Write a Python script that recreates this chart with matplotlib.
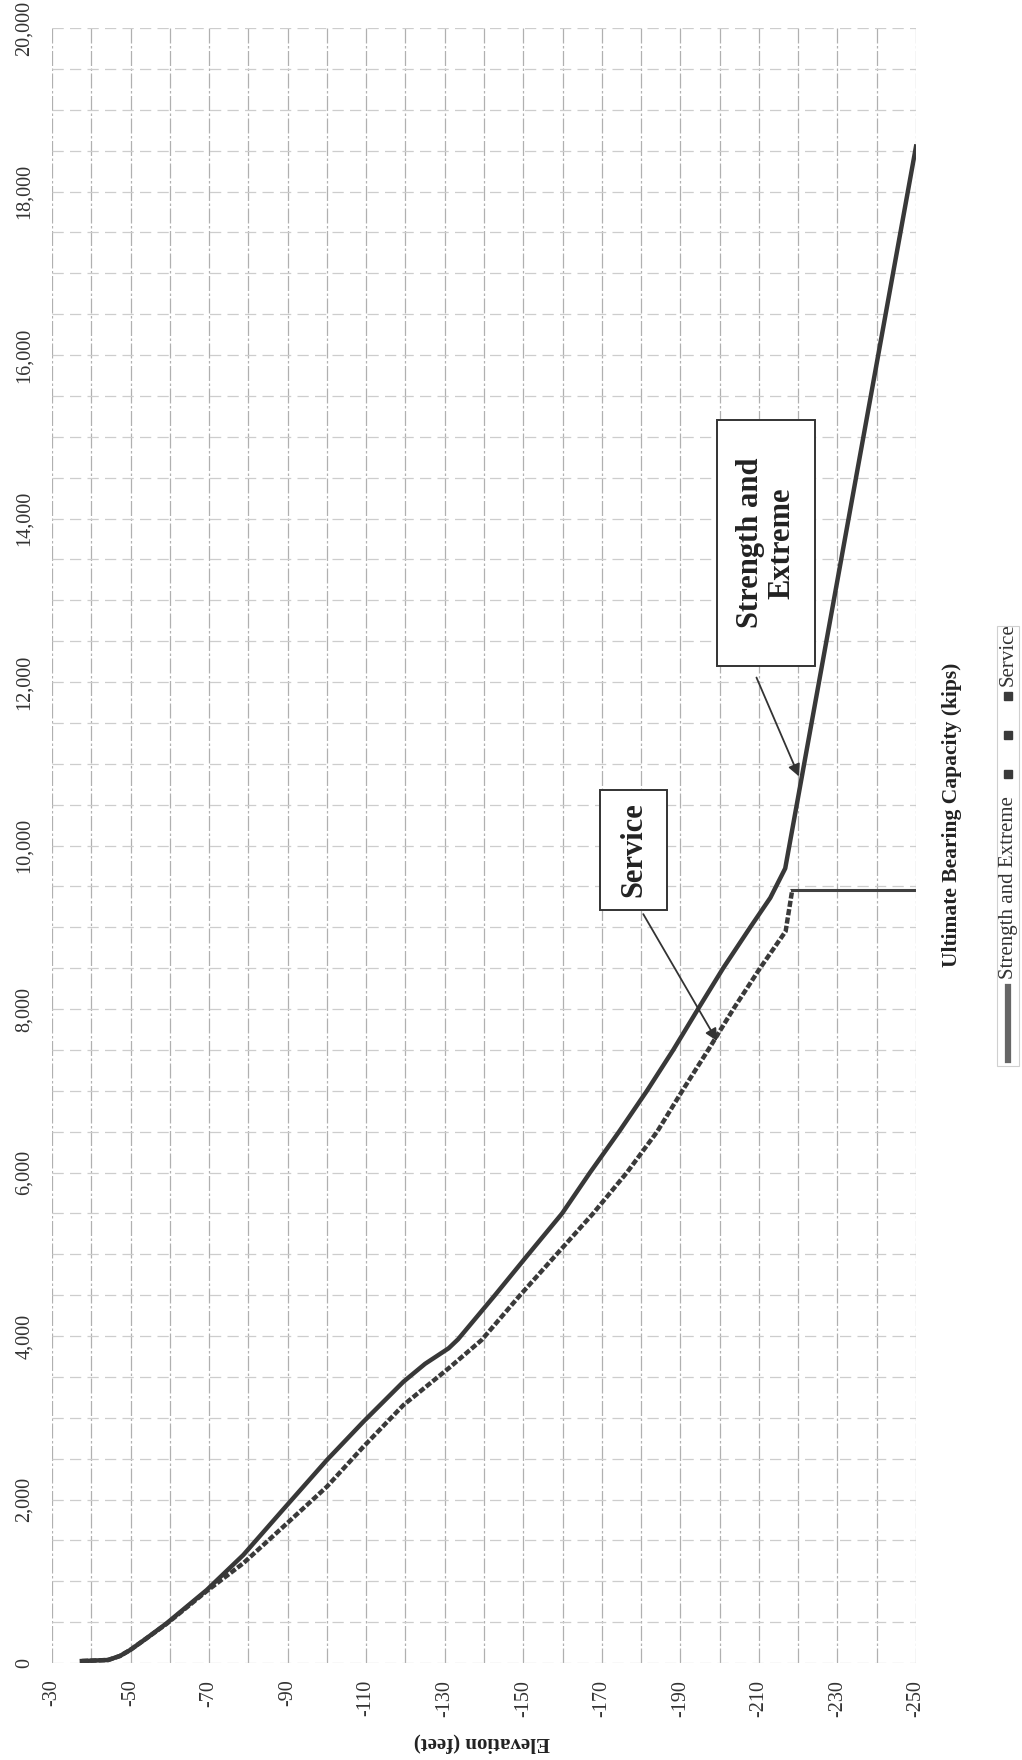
import numpy as np
import matplotlib
matplotlib.use("Agg")
import matplotlib.pyplot as plt
from matplotlib.lines import Line2D
from matplotlib.patches import Rectangle

plt.rcParams['font.family'] = ['Liberation Serif', 'DejaVu Serif']

# Strength and Extreme (solid line): elevation (ft) vs ultimate bearing capacity (kips)
elev_strength = [-37.6, -44.3, -47.3, -49.9, -54.0, -59.2, -69.4, -78.7, -88.9, -100.0,
                 -109.3, -119.5, -125.0, -131.0, -133.4, -142.8, -151.3, -159.9, -167.0,
                 -174.4, -181.5, -188.2, -194.5, -200.9, -207.8, -212.9, -216.7, -250.0]
cap_strength = [24, 37, 86, 159, 300, 486, 893, 1321, 1880, 2483,
                2952, 3441, 3660, 3850, 3960, 4500, 5000, 5500, 6000,
                6500, 7000, 7500, 8000, 8500, 9000, 9360, 9720, 18550]

# Service (dashed line)
elev_service = [-37.6, -44.3, -47.3, -49.9, -54.0, -59.2, -69.4, -78.7, -88.9, -100.0,
                -109.3, -119.5, -131.0, -139.4, -149.2, -158.5, -167.8, -176.4, -184.1,
                -190.5, -197.1, -203.5, -210.3, -216.8, -218.5, -250.0]
cap_service = [24, 37, 86, 159, 300, 480, 880, 1220, 1667, 2157,
               2646, 3156, 3605, 3951, 4500, 5000, 5500, 6000, 6500,
               7000, 7500, 8000, 8500, 8950, 9460, 9460]

elev_ticks = list(range(-30, -251, -20))
cap_ticks = list(range(0, 20001, 2000))

W, H = 1022, 1760
fig = plt.figure(figsize=(W / 100, H / 100), dpi=100)
ax = fig.add_axes([52 / W, 1 - 1663 / H, (916 - 52) / W, (1663 - 28) / H])
ax.set_xlim(-30, -250)
ax.set_ylim(0, 20000)

ax.set_xticks(elev_ticks)
ax.set_xticks(list(range(-40, -251, -20)), minor=True)
ax.set_yticks(cap_ticks)
ax.set_yticks(list(range(500, 20000, 500)), minor=True)
ax.set_xticklabels([str(v) for v in elev_ticks], rotation=90, fontsize=14.5, color='#333333')
ax.set_yticklabels([f"{v:,}" for v in cap_ticks], rotation=90, fontsize=14.5, va='center',
                   color='#333333')
ax.tick_params(which='both', length=0)
ax.tick_params(axis='x', pad=12)
ax.tick_params(axis='y', pad=13)
for s in ax.spines.values():
    s.set_visible(False)

ax.grid(True, axis='x', which='both', color='#b0b0b0', lw=0.9, ls=(0, (12, 2, 2, 2)))
ax.grid(True, axis='y', which='both', color='#cdcdcd', lw=0.9, ls=(0, (9, 5)))
ax.set_axisbelow(True)

# curves
ax.plot(elev_strength, cap_strength, color='#383838', lw=3.2, zorder=3,
        solid_joinstyle='round')
ax.plot(elev_service[:-1], cap_service[:-1], color='#3a3a3a', lw=3.2,
        ls=(0, (1.4, 0.5)), zorder=3)
ax.plot(elev_service[-2:], cap_service[-2:], color='#404040', lw=2.2, zorder=3)

# call-out boxes
ax.add_patch(Rectangle((-199.4, 12196), -24.9, 3009, fill=True, fc='white',
                       ec='#333333', lw=1.4, zorder=4))
ax.text(-211.85, 13700, "Strength and\nExtreme", rotation=90, fontsize=22,
        fontweight='bold', ha='center', va='center', multialignment='center',
        linespacing=1.1, color='#222222', zorder=5)
ax.annotate('', xy=(-220.5, 10813), xytext=(-209.1, 12086),
            arrowprops=dict(arrowstyle='-|>', color='#333333', lw=1.3, mutation_scale=18),
            zorder=5)

ax.add_patch(Rectangle((-169.6, 9211), -17.0, 1468, fill=True, fc='white',
                       ec='#333333', lw=1.4, zorder=4))
ax.text(-178.1, 9945, "Service", rotation=90, fontsize=22, fontweight='bold',
        ha='center', va='center', color='#222222', zorder=5)
ax.annotate('', xy=(-199.7, 7580), xytext=(-180.2, 9190),
            arrowprops=dict(arrowstyle='-|>', color='#333333', lw=1.3, mutation_scale=18),
            zorder=5)

# axis titles
fig.text(482 / W, 1 - 1743 / H, "Elevation (feet)", rotation=180, fontsize=15,
         fontweight='bold', ha='center', va='center', color='#222222')
fig.text(952 / W, 1 - 815 / H, "Ultimate Bearing Capacity (kips)", rotation=90,
         fontsize=15.5, fontweight='bold', ha='center', va='center', color='#222222')

# legend (rotated, drawn by hand)
fig.patches.append(Rectangle((997 / W, 1 - 1066 / H), 22 / W, 440 / H, fill=False,
                             ec='#d0d0d0', lw=0.8, transform=fig.transFigure))
fig.lines.append(Line2D([1008 / W, 1008 / W], [1 - 1060 / H, 1 - 987 / H],
                        color='#666666', lw=4.5, transform=fig.transFigure))
fig.text(1008 / W, 1 - 888 / H, "Strength and Extreme", rotation=90, fontsize=15,
         ha='center', va='center', color='#333333')
fig.lines.append(Line2D([1008 / W] * 3, [1 - 774 / H, 1 - 735 / H, 1 - 696 / H],
                        ls='none', marker='s', ms=6, color='#3a3a3a',
                        transform=fig.transFigure))
fig.text(1008 / W, 1 - 655 / H, "Service", rotation=90, fontsize=15,
         ha='center', va='center', color='#333333')

fig.savefig("out.png", dpi=100, facecolor='white')
